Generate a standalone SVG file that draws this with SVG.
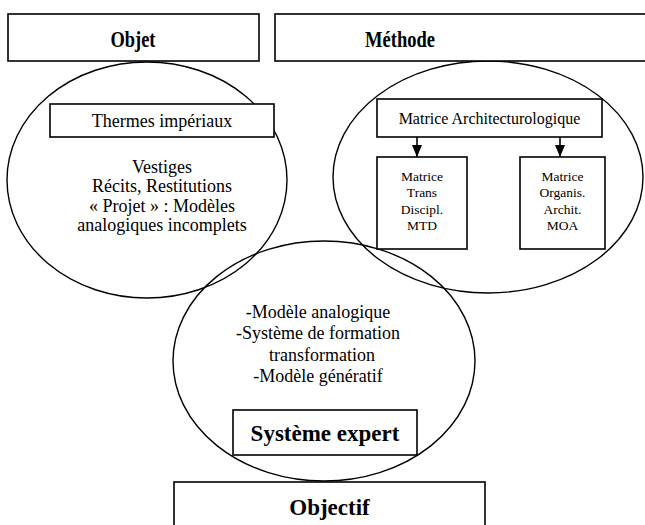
<svg xmlns="http://www.w3.org/2000/svg" width="645" height="525" viewBox="0 0 645 525">
  <style>
    .box { fill: #fff; stroke: #000; stroke-width: 1.6; }
    .oval { fill: none; stroke: #000; stroke-width: 1.4; }
    .t { font-family: "Liberation Serif", "Times New Roman", serif; fill: #000; text-anchor: middle; }
    .reg { font-size: 18px; }
    .mid { font-size: 16px; }
    .sm { font-size: 13.5px; }
    .bold { font-weight: bold; font-size: 23px; }
  </style>
  <defs>
    <marker id="arrow" viewBox="0 0 12 10" refX="12" refY="5" markerWidth="12" markerHeight="10" markerUnits="userSpaceOnUse" orient="auto">
      <path d="M0,0 L12,5 L0,10 Z" fill="#000"/>
    </marker>
  </defs>

  <!-- overlapping domains -->
  <g id="domaine-objet"><ellipse class="oval" cx="147" cy="180" rx="140" ry="118"/></g>
  <g id="domaine-methode"><ellipse class="oval" cx="488" cy="177" rx="155" ry="116"/></g>
  <g id="domaine-objectif"><ellipse class="oval" cx="324" cy="361" rx="151" ry="120"/></g>

  <!-- headers -->
  <g id="objet">
    <rect class="box" x="8" y="14" width="251" height="47" stroke-width="2"/>
    <text class="t bold" x="133" y="47" textLength="45" lengthAdjust="spacingAndGlyphs">Objet</text>
  </g>
  <g id="methode">
    <rect class="box" x="275" y="14" width="380" height="47" stroke-width="2"/>
    <text class="t bold" x="400" y="47" textLength="70" lengthAdjust="spacingAndGlyphs">Méthode</text>
  </g>

  <!-- objet contents -->
  <g id="thermes">
    <rect class="box" x="50" y="104" width="224" height="33"/>
    <text class="t reg" x="162" y="127">Thermes impériaux</text>
  </g>
  <g id="sources">
    <text class="t reg" x="162" y="173">Vestiges</text>
    <text class="t reg" x="162" y="192">Récits, Restitutions</text>
    <text class="t reg" x="162" y="212">« Projet » : Modèles</text>
    <text class="t reg" x="162" y="231">analogiques incomplets</text>
  </g>

  <!-- methode contents -->
  <g id="matrice-archi">
    <rect class="box" x="377" y="99" width="225" height="38"/>
    <text class="t mid" x="489.5" y="124">Matrice Architecturologique</text>
  </g>
  <g id="mtd">
    <rect class="box" x="377" y="157" width="90" height="92"/>
    <text class="t sm" x="422" y="181">Matrice</text>
    <text class="t sm" x="422" y="197">Trans</text>
    <text class="t sm" x="422" y="214">Discipl.</text>
    <text class="t sm" x="422" y="230">MTD</text>
  </g>
  <g id="moa">
    <rect class="box" x="520" y="157" width="85" height="92"/>
    <text class="t sm" x="562.5" y="181">Matrice</text>
    <text class="t sm" x="562.5" y="197">Organis.</text>
    <text class="t sm" x="562.5" y="214">Archit.</text>
    <text class="t sm" x="562.5" y="230">MOA</text>
  </g>

  <!-- objectif contents -->
  <g id="modeles">
    <text class="t reg" x="318" y="318">-Modèle analogique</text>
    <text class="t reg" x="318" y="339">-Système de formation</text>
    <text class="t reg" x="322" y="361">transformation</text>
    <text class="t reg" x="318" y="382">-Modèle génératif</text>
  </g>
  <g id="systeme-expert">
    <rect class="box" x="233" y="410" width="184" height="45"/>
    <text class="t bold" x="325" y="441">Système expert</text>
  </g>
  <g id="objectif">
    <rect class="box" x="174" y="482" width="311" height="50" stroke-width="2"/>
    <text class="t bold" x="329.5" y="515">Objectif</text>
  </g>

  <g id="connecteurs">
    <line x1="417" y1="137" x2="417" y2="157" stroke="#000" stroke-width="1.6" marker-end="url(#arrow)"/>
    <line x1="560" y1="137" x2="560" y2="157" stroke="#000" stroke-width="1.6" marker-end="url(#arrow)"/>
  </g>
</svg>
